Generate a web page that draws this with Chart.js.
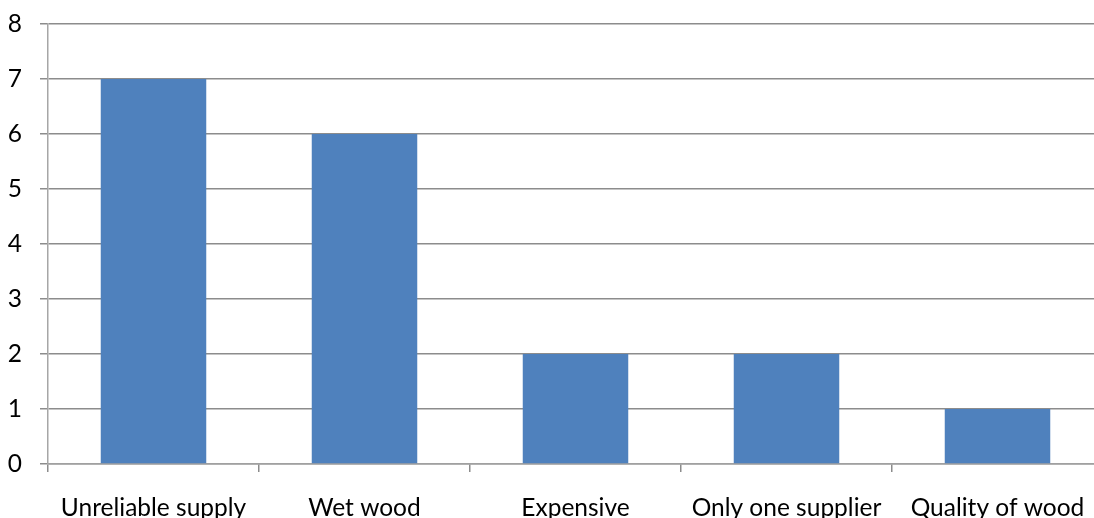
<!DOCTYPE html>
<html>
<head>
<meta charset="utf-8">
<script src="https://cdn.jsdelivr.net/npm/chart.js@4"></script>
<style>
  html, body { margin: 0; padding: 0; background: #fff; overflow: hidden; }
  #wrap { width: 1103px; height: 518px; }
</style>
</head>
<body>
<div id="wrap"><canvas id="myChart"></canvas></div>
<script>
const categories = ["Unreliable supply", "Wet wood", "Expensive", "Only one supplier", "Quality of wood"];
const values = [7, 6, 2, 2, 1];
const yTicks = [0, 1, 2, 3, 4, 5, 6, 7, 8];

const font = { family: "Lato", size: 24.5 };

new Chart("myChart", {
  type: "bar",
  data: {
    labels: categories,
    datasets: [{
      data: values,
      backgroundColor: "#4F81BD",
      categoryPercentage: 1,
      barPercentage: 0.5
    }]
  },
  options: {
    responsive: true,
    maintainAspectRatio: false,
    animation: false,
    layout: { padding: 0 },
    plugins: { legend: { display: false }, tooltip: { enabled: false } },
    scales: {
      x: {
        offset: true,
        grid: { offset: true, drawOnChartArea: false, tickLength: 8, color: "#8C8C8C", lineWidth: 1.5 },
        border: { color: "#A0A0A0", width: 1.5 },
        ticks: { color: "#000", font: font, padding: 21, maxRotation: 0, autoSkip: false },
        afterFit: (scale) => { scale.height = 54; scale.paddingLeft = 0; scale.paddingRight = 0; }
      },
      y: {
        min: 0,
        max: 8,
        afterBuildTicks: (scale) => { scale.ticks = yTicks.map(v => ({ value: v })); },
        grid: { color: "#8C8C8C", lineWidth: 1.5, tickLength: 8 },
        border: { color: "#A6A6A6", width: 1.5 },
        // small lineHeight only trims the top padding, labels stay centred on their line
        ticks: { color: "#000", font: { family: "Lato", size: 24.5, lineHeight: 0.5 }, padding: 18 },
        afterFit: (scale) => { scale.width = 48; }
      }
    }
  }
});
</script>
</body>
</html>
